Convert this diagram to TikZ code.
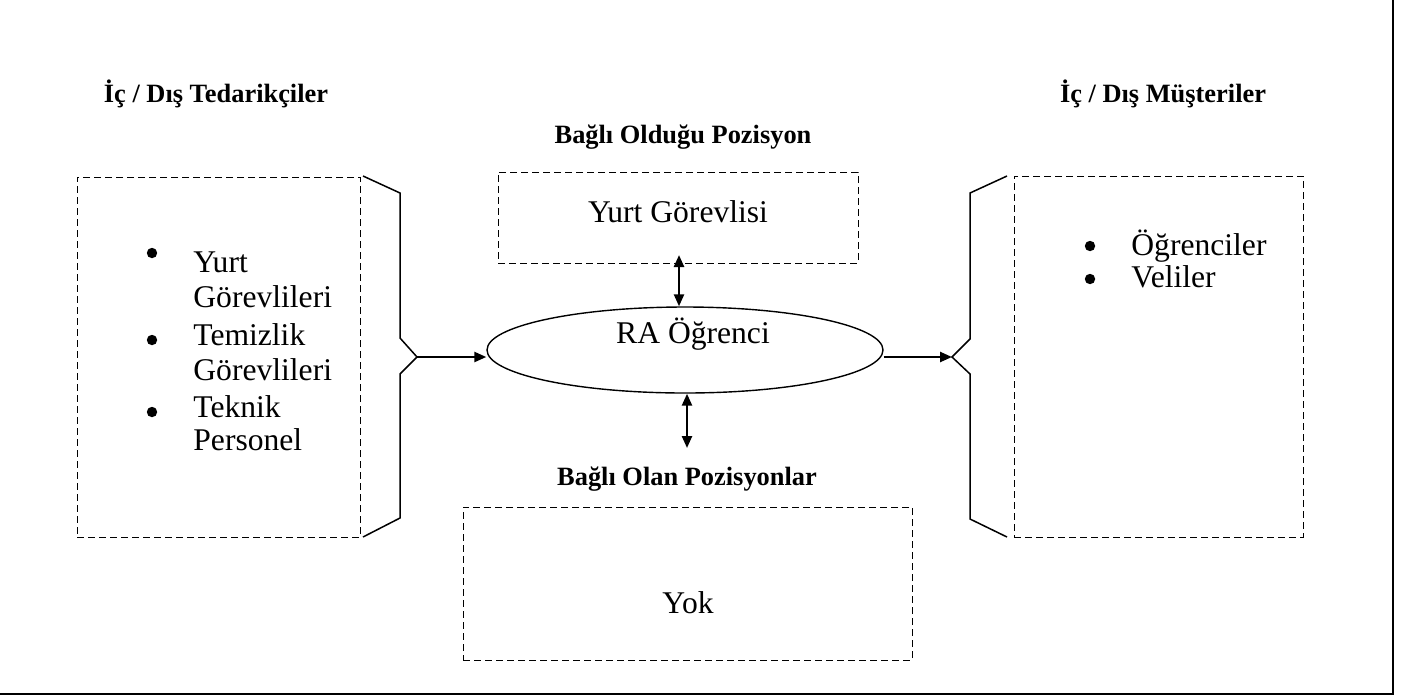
\documentclass[tikz,border=0pt]{standalone}
\usepackage{fontspec}
\setmainfont{Liberation Serif}
\usetikzlibrary{shapes.geometric,arrows.meta}
\begin{document}
\begin{tikzpicture}[x=0.5pt,y=-0.5pt,
  dbox/.style={draw,dash pattern=on 3.5pt off 2pt,line width=0.5pt,inner sep=0,outer sep=0},
  body/.style={font=\fontsize{15.8}{19}\selectfont,inner sep=0},
  head/.style={font=\fontsize{13.2}{16}\selectfont\bfseries,inner sep=0},
  arr/.style={line width=1.2pt,-{Triangle[length=6pt,width=5pt]}},
  darr/.style={line width=1.2pt,{Triangle[length=6pt,width=5pt]}-{Triangle[length=6pt,width=5pt]}},
  brk/.style={line width=0.75pt},
  dot/.style={circle,fill,inner sep=0,minimum size=5.2pt},
  frame/.style={line width=1pt}
]
\useasboundingbox (0,0) rectangle (1411,697);
% outer frame (right and bottom edges visible)
\draw[frame] (1393,-5) -- (1393,694) -- (-5,694);

% headings
\node[head,anchor=base] (hl) at (216,102) {İç / Dış Tedarikçiler};
\node[head,anchor=base] (hr) at (1163,102) {İç / Dış Müşteriler};
\node[head,anchor=base] (ht) at (683,143) {Bağlı Olduğu Pozisyon};
\node[head,anchor=base] (hb) at (687,485) {Bağlı Olan Pozisyonlar};

% dashed boxes
\node[dbox,minimum width=141.5pt,minimum height=180pt] (lbox) at (218.5,357) {};
\node[dbox,minimum width=144.5pt,minimum height=180.5pt] (rbox) at (1158.5,356.5) {};
\node[dbox,minimum width=180pt,minimum height=45.5pt] (tbox) at (678,217.5) {};
\node[dbox,minimum width=224.5pt,minimum height=76.5pt] (bbox) at (687.5,583.5) {};

\node[body,anchor=base] (tboxtext) at (678,222) {Yurt Görevlisi};
\node[body,anchor=base] (bboxtext) at (688,613) {Yok};

% left list
\node[dot] (ld1) at (152,253) {};
\node[dot] (ld2) at (152,340) {};
\node[dot] (ld3) at (152,412) {};
\node[body,anchor=base west] (l1) at (193,272) {Yurt};
\node[body,anchor=base west] (l2) at (193,307) {Görevlileri};
\node[body,anchor=base west] (l3) at (193,345) {Temizlik};
\node[body,anchor=base west] (l4) at (193,380) {Görevlileri};
\node[body,anchor=base west] (l5) at (193,417) {Teknik};
\node[body,anchor=base west] (l6) at (193,450) {Personel};

% right list
\node[dot] (rd1) at (1090,246) {};
\node[dot] (rd2) at (1090,279) {};
\node[body,anchor=base west] (r1) at (1131,255) {Öğrenciler};
\node[body,anchor=base west] (r2) at (1131,287) {Veliler};

% central ellipse
\node[draw,ellipse,line width=0.7pt,minimum width=198pt,minimum height=43pt,inner sep=0] (ra) at (685,350) {};
\node[body,anchor=base] (ratext) at (693,343) {RA Öğrenci};

% brackets
\draw[brk] (363,176) -- (400,193) -- (400,338) -- (417,357) -- (400,374) -- (400,518) -- (363,537);
\draw[brk] (1007,176) -- (970,193) -- (970,339) -- (952,357) -- (970,374) -- (970,519) -- (1007,537);
\coordinate (ltip) at (417,357);
\coordinate (rtip) at (952,357);
\coordinate (tarr) at (679,255);
\coordinate (barr) at (687,448);

% connectors
\draw[arr] (ltip) -- (ltip -| ra.west);
\draw[arr] (ltip -| ra.east) -- (rtip);
\draw[darr] (tarr) -- (tarr |- ra.north);
\draw[darr] (barr |- ra.south) -- (barr);
\end{tikzpicture}
\end{document}
